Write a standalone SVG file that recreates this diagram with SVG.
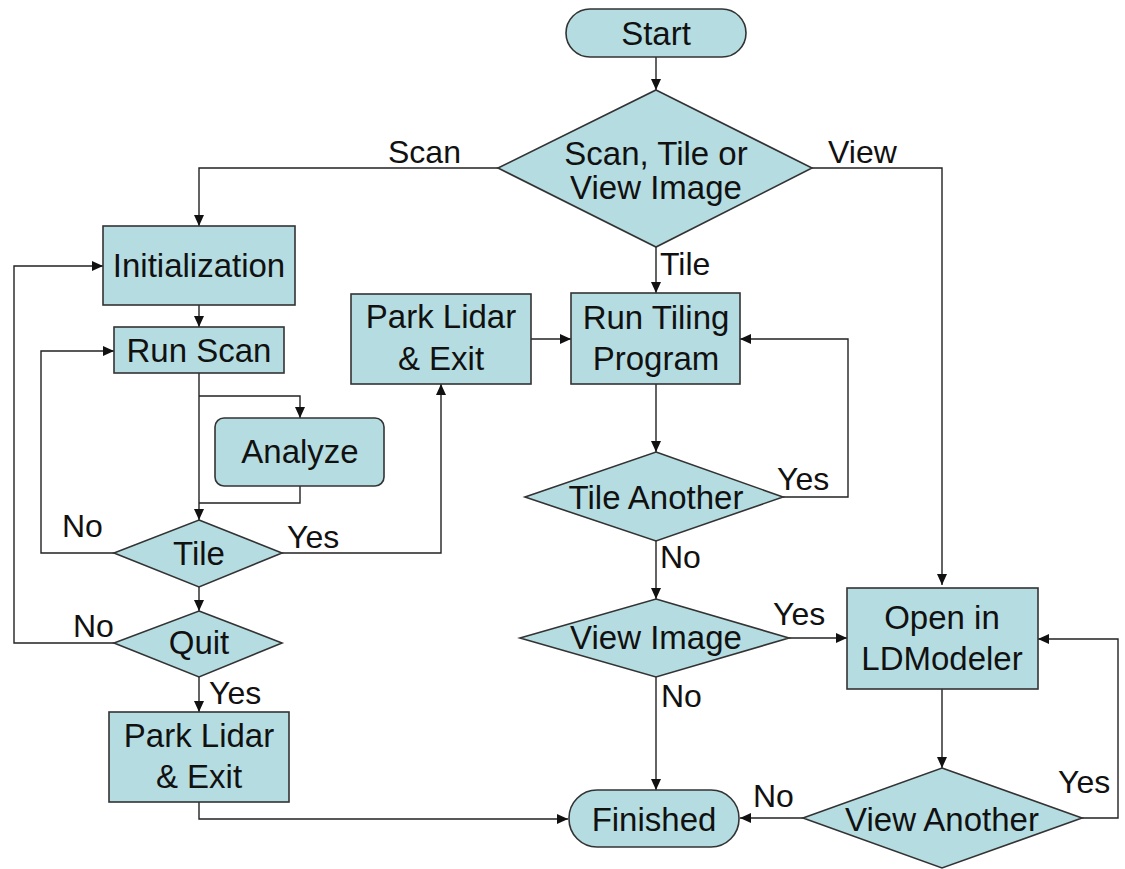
<svg xmlns="http://www.w3.org/2000/svg" width="1125" height="869" viewBox="0 0 1125 869">
<style>
.n{fill:#b5dde1;stroke:#333;stroke-width:1.6}
.t{font-family:"Liberation Sans",Arial,sans-serif;font-size:33px;fill:#111;text-anchor:middle}
.l{font-family:"Liberation Sans",Arial,sans-serif;font-size:32px;fill:#111}
.c{fill:none;stroke:#222;stroke-width:1.4}
</style>
<defs>
<marker id="a" markerUnits="userSpaceOnUse" markerWidth="12" markerHeight="10" refX="11" refY="5" orient="auto">
<path d="M0,0 L11,5 L0,10 Z" fill="#111"/>
</marker>
</defs>
<rect width="1125" height="869" fill="#fff"/>
<g id="connectors">
<path class="c" d="M656,57 V90" marker-end="url(#a)"/>
<path class="c" d="M498,168 H199 V226" marker-end="url(#a)"/>
<path class="c" d="M812,168 H942 V585" marker-end="url(#a)"/>
<path class="c" d="M656,247 V293" marker-end="url(#a)"/>
<path class="c" d="M199,305 V327" marker-end="url(#a)"/>
<path class="c" d="M199,373 V520" marker-end="url(#a)"/>
<path class="c" d="M199,396 H300 V418" marker-end="url(#a)"/>
<path class="c" d="M300,486 V503 H199"/>
<path class="c" d="M114,553 H41 V351 H114" marker-end="url(#a)"/>
<path class="c" d="M282,553 H441 V384" marker-end="url(#a)"/>
<path class="c" d="M199,587 V611" marker-end="url(#a)"/>
<path class="c" d="M114,643 H14 V266 H103" marker-end="url(#a)"/>
<path class="c" d="M199,677 V712" marker-end="url(#a)"/>
<path class="c" d="M199,802 V819 H568" marker-end="url(#a)"/>
<path class="c" d="M531,339 H571" marker-end="url(#a)"/>
<path class="c" d="M656,384 V452" marker-end="url(#a)"/>
<path class="c" d="M783,497 H848 V339 H740" marker-end="url(#a)"/>
<path class="c" d="M656,541 V599" marker-end="url(#a)"/>
<path class="c" d="M789,638 H847" marker-end="url(#a)"/>
<path class="c" d="M656,677 V790" marker-end="url(#a)"/>
<path class="c" d="M942,689 V768" marker-end="url(#a)"/>
<path class="c" d="M803,818 H740" marker-end="url(#a)"/>
<path class="c" d="M1082,818 H1118 V639 H1038" marker-end="url(#a)"/>
<text class="l" x="388" y="163">Scan</text>
<text class="l" x="828" y="163">View</text>
<text class="l" x="660" y="275">Tile</text>
<text class="l" x="62" y="537">No</text>
<text class="l" x="287" y="548">Yes</text>
<text class="l" x="73" y="637">No</text>
<text class="l" x="209" y="704">Yes</text>
<text class="l" x="777" y="490">Yes</text>
<text class="l" x="660" y="568">No</text>
<text class="l" x="773" y="625">Yes</text>
<text class="l" x="661" y="707">No</text>
<text class="l" x="753" y="807">No</text>
<text class="l" x="1058" y="793">Yes</text>
</g>
<g id="start"><rect class="n" x="566" y="9" width="180" height="48" rx="24"/><text class="t" x="656" y="45">Start</text></g>
<g id="choice"><polygon class="n" points="656,90 812,168 656,247 498,168"/><text class="t" x="656" y="165">Scan, Tile or</text><text class="t" x="656" y="199">View Image</text></g>
<g id="init"><rect class="n" x="103" y="226" width="192" height="79"/><text class="t" x="199" y="277">Initialization</text></g>
<g id="runscan"><rect class="n" x="114" y="327" width="170" height="46"/><text class="t" x="199" y="362">Run Scan</text></g>
<g id="analyze"><rect class="n" x="215" y="418" width="169" height="68" rx="9"/><text class="t" x="300" y="463">Analyze</text></g>
<g id="tile"><polygon class="n" points="199,520 282,553 199,587 114,553"/><text class="t" x="199" y="565">Tile</text></g>
<g id="quit"><polygon class="n" points="199,611 282,643 199,677 114,643"/><text class="t" x="199" y="654">Quit</text></g>
<g id="park2"><rect class="n" x="109" y="712" width="180" height="90"/><text class="t" x="199" y="747">Park Lidar</text><text class="t" x="199" y="788">&amp; Exit</text></g>
<g id="park1"><rect class="n" x="351" y="294" width="180" height="90"/><text class="t" x="441" y="328">Park Lidar</text><text class="t" x="441" y="370">&amp; Exit</text></g>
<g id="runtiling"><rect class="n" x="571" y="293" width="169" height="91"/><text class="t" x="656" y="329">Run Tiling</text><text class="t" x="656" y="370">Program</text></g>
<g id="tileanother"><polygon class="n" points="656,452 783,497 656,541 525,497"/><text class="t" x="656" y="509">Tile Another</text></g>
<g id="viewimage"><polygon class="n" points="656,599 789,638 656,677 520,638"/><text class="t" x="656" y="649">View Image</text></g>
<g id="open"><rect class="n" x="847" y="588" width="191" height="101"/><text class="t" x="942" y="629">Open in</text><text class="t" x="942" y="670">LDModeler</text></g>
<g id="viewanother"><polygon class="n" points="942,768 1082,818 942,868 803,818"/><text class="t" x="942" y="831">View Another</text></g>
<g id="finished"><rect class="n" x="569" y="790" width="170" height="57" rx="28"/><text class="t" x="654" y="831">Finished</text></g>
</svg>
